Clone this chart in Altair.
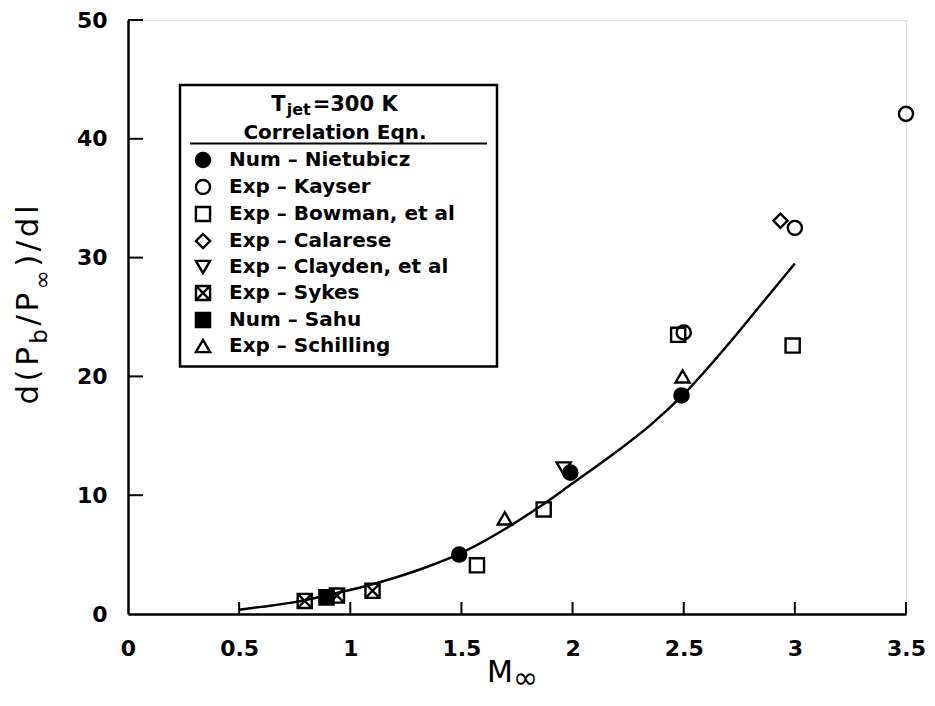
import altair as alt
import pandas as pd

# ---------------- data ----------------
series_names = [
    "Num – Nietubicz", "Exp – Kayser", "Exp – Bowman, et al", "Exp – Calarese",
    "Exp – Clayden, et al", "Exp – Sykes", "Num – Sahu", "Exp – Schilling",
]
nietubicz_m = [1.49, 1.99, 2.49]
nietubicz_v = [5.0, 11.9, 18.4]
kayser_m = [2.50, 3.00, 3.50]
kayser_v = [23.7, 32.5, 42.1]
bowman_m = [1.57, 1.87, 2.475, 2.99]
bowman_v = [4.1, 8.8, 23.5, 22.6]
calarese_m = [2.935]
calarese_v = [33.1]
clayden_m = [1.96]
clayden_v = [12.25]
sykes_m = [0.795, 0.94, 1.10]
sykes_v = [1.1, 1.55, 1.95]
sahu_m = [0.893]
sahu_v = [1.4]
schilling_m = [1.695, 2.495]
schilling_v = [8.05, 20.0]

corr_m = [0.5, 0.6, 0.75, 0.9, 1.05, 1.2, 1.35, 1.5, 1.7, 1.85, 2.0, 2.2, 2.35, 2.5, 2.7, 2.85, 3.0]
corr_v = [0.35, 0.6, 1.0, 1.6, 2.25, 3.05, 4.0, 5.15, 7.2, 9.0, 11.0, 13.7, 15.9, 18.5, 22.7, 26.1, 29.5]

x_ticks = [0, 0.5, 1, 1.5, 2, 2.5, 3, 3.5]
y_ticks = [0, 10, 20, 30, 40, 50]

# ---------------- styles ----------------
SYKES_PATH = "M-1,-1L1,-1L1,1L-1,1Z M-1,-1L1,1 M1,-1L-1,1"
shapes = ["circle", "circle", "square", "diamond", "triangle-down", SYKES_PATH, "square", "triangle-up"]
fills = ["black", "transparent", "transparent", "transparent", "transparent", "transparent", "black", "transparent"]
strokes = ["black"] * 8
FONT = "DejaVu Sans"
W, H = 778, 594
TOP = 12

rows = []
def add(name, ms, vs):
    for m, v in zip(ms, vs):
        rows.append({"series": name, "M": m, "val": v})

# draw order: Clayden first so the Nietubicz circle sits on top of it
add(series_names[4], clayden_m, clayden_v)
add(series_names[0], nietubicz_m, nietubicz_v)
add(series_names[1], kayser_m, kayser_v)
add(series_names[2], bowman_m, bowman_v)
add(series_names[3], calarese_m, calarese_v)
add(series_names[5], sykes_m, sykes_v)
add(series_names[6], sahu_m, sahu_v)
add(series_names[7], schilling_m, schilling_v)
pts = pd.DataFrame(rows)
curve = pd.DataFrame({"M": corr_m, "val": corr_v})
xt = pd.DataFrame({"t": [t for t in x_ticks if t > 0]})
yt = pd.DataFrame({"t": [t for t in y_ticks if t > 0]})
one = pd.DataFrame({"a": [0]})

xscale = alt.Scale(domain=[0, 3.5], nice=False, zero=False)
yscale = alt.Scale(domain=[0, 50], nice=False)

xaxis = alt.Axis(values=x_ticks, labelExpr="'' + datum.value", title=None, ticks=False, tickSize=0,
                 grid=False, domainColor="black", domainWidth=2.5, labelFont=FONT, labelFontWeight="bold",
                 labelFontSize=22, labelColor="black", labelPadding=24, labelOverlap=False, labelFlush=False)
yaxis = alt.Axis(values=y_ticks, title=None, ticks=False, tickSize=0, grid=False, domainColor="black",
                 domainWidth=2.5, labelFont=FONT, labelFontWeight="bold", labelFontSize=22,
                 labelColor="black", labelPadding=21, labelOverlap=False, labelFlush=False)

# pixel offsets below are relative to the plot area's top-left corner (128, 8+TOP)
dy = 8 + TOP
legend = alt.Legend(title=None, orient="none", legendX=65, legendY=150 - dy, padding=0,
                    labelFont=FONT, labelFontSize=20, labelFontWeight="bold", labelColor="black",
                    labelOffset=16, labelLimit=500, rowPadding=3, symbolSize=200,
                    symbolStrokeWidth=2.4, symbolStrokeColor="black")

curve_layer = alt.Chart(curve).mark_line(color="black", strokeWidth=2.5, interpolate="monotone").encode(
    x=alt.X("M:Q", scale=xscale, axis=xaxis),
    y=alt.Y("val:Q", scale=yscale, axis=yaxis),
)

box = alt.Chart(one).mark_rect(fill="white", stroke="black", strokeWidth=2.5).encode(
    x=alt.value(52), x2=alt.value(369), y=alt.value(85 - dy), y2=alt.value(366.5 - dy))

points = alt.Chart(pts).mark_point(opacity=1, strokeWidth=2.4, size=200).encode(
    x=alt.X("M:Q", scale=xscale),
    y=alt.Y("val:Q", scale=yscale),
    shape=alt.Shape("series:N", scale=alt.Scale(domain=series_names, range=shapes), legend=legend),
    fill=alt.Fill("series:N", scale=alt.Scale(domain=series_names, range=fills), legend=legend),
    stroke=alt.Stroke("series:N", scale=alt.Scale(domain=series_names, range=strokes), legend=legend),
)

xtick_layer = alt.Chart(xt).mark_rule(color="black", strokeWidth=2).encode(
    x=alt.X("t:Q", scale=xscale), y=alt.value(H), y2=alt.value(H - 12))
ytick_layer = alt.Chart(yt).mark_rule(color="black", strokeWidth=2).encode(
    y=alt.Y("t:Q", scale=yscale), x=alt.value(0), x2=alt.value(15))

def txt(s, x, y, size, weight="bold", align="left", baseline="alphabetic", angle=0):
    kw = dict(text=s, fontSize=size, font=FONT, fontWeight=weight, align=align,
              baseline=baseline, color="black")
    if angle:
        kw["angle"] = angle
    return alt.Chart(one).mark_text(**kw).encode(x=alt.value(x), y=alt.value(y))

# legend header: T_jet=300 K / Correlation Eqn.
hdr_w = [0.682 * 21, 1.499 * 16, 4.049 * 21]
hx = 207 - (sum(hdr_w) + 4) / 2
header = [
    txt("T", hx, 110.5 - dy, 21),
    txt("jet", hx + hdr_w[0] + 1, 115 - dy, 16),
    txt("=300 K", hx + hdr_w[0] + hdr_w[1] + 3, 110.5 - dy, 21),
    txt("Correlation Eqn.", 207, 138.5 - dy, 20, align="center"),
]
underline = alt.Chart(one).mark_rule(color="black", strokeWidth=2).encode(
    x=alt.value(62), x2=alt.value(359), y=alt.value(143.5 - dy))

# y title d(P_b/P_inf)/dl, rotated, drawn piece by piece
ych = [("d", 0), ("(", 0), ("P", 0), ("b", 1), ("/", 0), ("P", 0), ("∞", 2), (")", 0), ("/", 0), ("d", 0), ("l", 0)]
em = {"d": 0.635, "(": 0.390, "P": 0.603, "b": 0.635, "/": 0.337, "∞": 0.833, ")": 0.390, "l": 0.278}
MAIN, SUB, TRACK = 31, 23, 3.5
widths = [em[c] * (SUB if s else MAIN) for c, s in ych]
total = sum(widths) + TRACK * (len(ych) - 1)
ypos = (305 - dy) + total / 2
ytitle = []
for (c, s), w in zip(ych, widths):
    bx = -90 if s == 0 else (-81 if s == 1 else -78)
    ytitle.append(txt(c, bx, ypos, SUB if s else MAIN, weight="normal", angle=270))
    ypos -= w + TRACK

xtitle = [
    txt("M", 359, 682 - dy, 30, weight="normal"),
    txt("∞", 385, 688 - dy, 30, weight="normal"),
]

chart = alt.layer(
    curve_layer, box, xtick_layer, ytick_layer, points, underline, *header, *ytitle, *xtitle
).properties(
    width=W, height=H,
    padding={"left": 120, "top": TOP, "right": 20, "bottom": 82},
    autosize=alt.AutoSizeParams(type="none"),
).configure_view(strokeWidth=0).configure(background="white")

chart.save("out.html", embed_options={"renderer": "svg", "actions": False})
